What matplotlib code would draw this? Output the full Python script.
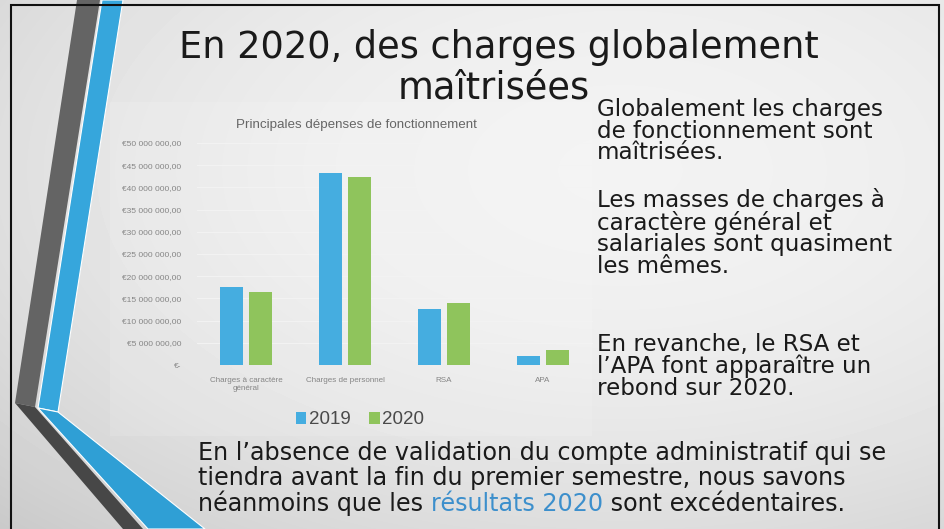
"""
Slide: En 2020, des charges globalement maîtrisées -> out.png
"""

import matplotlib

matplotlib.use("Agg")
import matplotlib.pyplot as plt
import numpy as np
from matplotlib.patches import Polygon, Rectangle

W, H = 944, 529

# données du graphique
categories = ["Charges à caractère\ngénéral", "Charges de personnel", "RSA", "APA"]
series_names = ["2019", "2020"]
values_2019 = [17.5e6, 43.3e6, 12.6e6, 2.1e6]
values_2020 = [16.5e6, 42.4e6, 14.0e6, 3.4e6]
y_ticks = [0, 5e6, 10e6, 15e6, 20e6, 25e6, 30e6, 35e6, 40e6, 45e6, 50e6]
y_tick_labels = ["€-", "€5 000 000,00", "€10 000 000,00", "€15 000 000,00",
                 "€20 000 000,00", "€25 000 000,00", "€30 000 000,00",
                 "€35 000 000,00", "€40 000 000,00", "€45 000 000,00",
                 "€50 000 000,00"]
chart_title = "Principales dépenses de fonctionnement"

# textes de la diapo
slide_title = ["En 2020, des charges globalement", "maîtrisées"]
right_blocks = [
    ["Globalement les charges", "de fonctionnement sont", "maîtrisées."],
    ["Les masses de charges à", "caractère général et",
     "salariales sont quasiment", "les mêmes."],
    ["En revanche, le RSA et", "l’APA font apparaître un", "rebond sur 2020."],
]
bottom_lines = ["En l’absence de validation du compte administratif qui se",
                "tiendra avant la fin du premier semestre, nous savons"]
bottom_last = ["néanmoins que les ", "résultats 2020", " sont excédentaires."]

C2019 = "#45ade0"
C2020 = "#8fc45c"
FONT = "DejaVu Sans"
INK = "#1a1a1a"

fig = plt.figure(figsize=(W / 100, H / 100), dpi=100)
fig.patch.set_facecolor("white")

# fond (coordonnées en pixels)
bg = fig.add_axes([0, 0, 1, 1])
bg.set_xlim(0, W)
bg.set_ylim(H, 0)
bg.axis("off")
yy, xx = np.mgrid[0:H, 0:W]
d2 = ((xx - 620) / W) ** 2 + ((yy - 170) / H) ** 2
shade = np.clip(0.95 - 0.18 * d2, 0, 1)
bg.imshow(shade, cmap="gray", vmin=0, vmax=1, extent=(0, W, H, 0),
          aspect="auto", zorder=0)

# zone du graphique légèrement plus claire
bg.add_patch(Rectangle((110, 102), 482, 334, facecolor="white", alpha=0.13,
                       edgecolor="none", zorder=1))

# bandes décoratives
bg.add_patch(Polygon([(77, 0), (100, 0), (35, 407), (15, 403)],
                     facecolor="#646464", edgecolor="none", zorder=2))
bg.add_patch(Polygon([(15, 403), (35, 407), (143, 529), (123, 529)],
                     facecolor="#474747", edgecolor="none", zorder=2))
bg.add_patch(Polygon([(102, 0), (123, 0), (58, 412), (38, 408)],
                     facecolor="#36a6dc", edgecolor="white", lw=0.8, zorder=3))
bg.add_patch(Polygon([(38, 408), (58, 412), (205, 529), (148, 529)],
                     facecolor="#2f9fd5", edgecolor="white", lw=0.8, zorder=3))

# cadre
bg.plot([11, 11, 939, 939], [H, 5, 5, H], color="#111111", lw=1.5, zorder=5,
        solid_joinstyle="miter")

# titre
bg.text(499, 47, slide_title[0], ha="center", va="center", fontsize=26.5,
        family=FONT, color=INK, zorder=6)
bg.text(494, 88, slide_title[1], ha="center", va="center", fontsize=26.5,
        family=FONT, color=INK, zorder=6)

# texte à droite (interligne serré comme dans PowerPoint)
tops = [98, 188, 333]
for block, y in zip(right_blocks, tops):
    bg.text(597, y, "\n".join(block), ha="left", va="top", fontsize=16.6,
            family=FONT, color=INK, linespacing=0.93, zorder=6)

# texte en bas
for line, y in zip(bottom_lines, [460, 485]):
    bg.text(198, y, line, ha="left", va="baseline", fontsize=17.2,
            family=FONT, color=INK, zorder=6)
t = bg.text(198, 511, bottom_last[0], ha="left", va="baseline", fontsize=17.2,
            family=FONT, color=INK, zorder=6)
t = bg.annotate(bottom_last[1], xy=(1, 0), xycoords=t, ha="left", va="bottom",
                fontsize=17.2, family=FONT, color="#3c8fcc", zorder=6)
bg.annotate(bottom_last[2], xy=(1, 0), xycoords=t, ha="left", va="bottom",
            fontsize=17.2, family=FONT, color=INK, zorder=6)

# graphique
ax = fig.add_axes([196.5 / W, 1 - 365 / H, 396 / W, 222 / H])
ax.patch.set_alpha(0)
x = np.arange(len(categories))
w = 0.23
b1 = ax.bar(x - 0.145, values_2019, w, color=C2019, label=series_names[0], zorder=3)
b2 = ax.bar(x + 0.145, values_2020, w, color=C2020, label=series_names[1], zorder=3)
ax.set_xlim(-0.5, len(categories) - 0.5)
ax.set_ylim(0, 50e6)
ax.set_yticks(y_ticks)
ax.set_yticklabels(y_tick_labels)
ax.set_xticks(x)
ax.set_xticklabels(categories)
ax.tick_params(axis="y", length=0, pad=11, labelsize=6, labelcolor="#858585")
ax.tick_params(axis="x", length=0, pad=9, labelsize=5.8, labelcolor="#858585")
for lab in ax.get_xticklabels() + ax.get_yticklabels():
    lab.set_family("Liberation Sans")
for s in ax.spines.values():
    s.set_visible(False)
ax.grid(True, axis="y", color="#f3f3f3", lw=0.7, zorder=0)
ax.set_axisbelow(True)

bg.text(356, 125, chart_title, ha="center", va="center", fontsize=9.6,
        family="Liberation Sans", color="#666666", zorder=6)

fig.legend(handles=[b1, b2], labels=series_names, loc="center",
           bbox_to_anchor=(360 / W, 1 - 420 / H), ncol=2, frameon=False,
           handlelength=0.55, handleheight=0.55, handletextpad=0.15,
           columnspacing=1.0, labelcolor="#4a4a4a",
           prop={"family": "Liberation Sans", "size": 13.5})

fig.savefig("out.png", dpi=100)
